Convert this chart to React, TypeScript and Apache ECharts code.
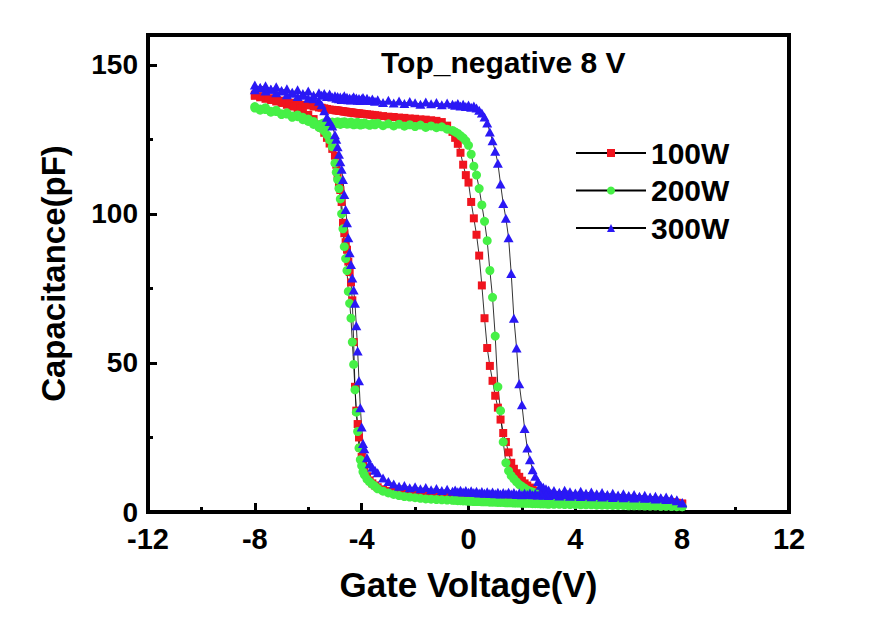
import React, { useEffect, useRef } from 'react';
import * as echarts from 'echarts';

// Gate-voltage sweep grid (V)
const voltage = [
  -8, -7.8, -7.6, -7.4, -7.2, -7, -6.8, -6.6, -6.4, -6.2, -6, -5.8, -5.6,
  -5.5, -5.4, -5.3, -5.2, -5.1,
  -5, -4.95, -4.9, -4.85, -4.8, -4.75, -4.7, -4.65, -4.6, -4.55, -4.5, -4.45, -4.4, -4.35, -4.3, -4.25, -4.2, -4.15, -4.1, -4.05, -4, -3.95, -3.9,
  -3.8, -3.7, -3.6, -3.5,
  -3.4, -3.2, -3, -2.8, -2.6, -2.4, -2.2, -2, -1.8, -1.6, -1.4, -1.2, -1, -0.8, -0.6,
  -0.5, -0.4, -0.3, -0.2, -0.1, 0, 0.1, 0.2, 0.3, 0.4, 0.5, 0.6, 0.7, 0.8, 0.9, 1, 1.1, 1.2, 1.3, 1.4, 1.5, 1.6, 1.7, 1.8, 1.9, 2, 2.1, 2.2, 2.3, 2.4, 2.5, 2.6, 2.7, 2.8, 2.9, 3,
  3.2, 3.4, 3.6, 3.8, 4, 4.2, 4.4, 4.6, 4.8, 5, 5.2, 5.4, 5.6, 5.8, 6, 6.2, 6.4, 6.6, 6.8, 7, 7.2, 7.4, 7.6, 7.8, 8,
];

// 100W: forward sweep (-8 -> 8) and backward sweep (8 -> -8), listed in voltage order
const c100Forward = [
  140, 139.5, 139.2, 138.8, 138.6, 138, 137.8, 137.3, 137.1, 136.6, 136.4, 136, 135.7,
  135.6, 135.4, 135.2, 135, 134.9,
  134.8, 134.7, 134.7, 134.6, 134.5, 134.5, 134.4, 134.3, 134.3, 134.2, 134.1, 134.1, 134, 134, 133.9, 133.8, 133.8, 133.7, 133.7, 133.6, 133.6, 133.5, 133.5,
  133.4, 133.3, 133.2, 133.1,
  133, 132.8, 132.6, 132.5, 132.3, 132.2, 132, 131.9, 131.7, 131.6, 131.4, 131.2, 130.8, 129.6, 127.5,
  125.5, 123.5, 120.5, 116.5, 113, 110.5, 104, 98.5, 93, 86, 76, 65, 55, 49, 44, 39, 35, 31, 26.5, 23.5, 20, 16.5, 14.5, 13, 11.8, 10.5, 9.6, 8.9, 8.2, 7.6, 7.1, 6.7, 6.4, 6.1, 5.9, 5.7,
  5.5, 5.3, 5.2, 5, 4.9, 4.8, 4.7, 4.6, 4.5, 4.5, 4.4, 4.3, 4.2, 4.1, 4.1, 4, 3.9, 3.8, 3.7, 3.6, 3.5, 3.4, 3.3, 3.1, 2.8,
];
const c100Backward = [
  139.6, 139.1, 138.6, 138.2, 137.7, 137.2, 136.6, 136, 135.2, 134.3, 133.2, 131.8, 130,
  128.8, 127.2, 125.5, 123.6, 121.8,
  119.5, 116.5, 113, 110.5, 108, 104, 97, 93.5, 90.5, 88, 84, 80.5, 77, 71, 57, 42, 34, 29.5, 25, 21.5, 18.5, 16, 14.2,
  12, 10.6, 9.6, 8.9,
  8.3, 7.6, 7.1, 6.7, 6.4, 6.2, 6, 5.8, 5.7, 5.6, 5.5, 5.4, 5.3, 5.3, 5.2,
  5.2, 5.1, 5.1, 5, 5, 5, 4.9, 4.9, 4.9, 4.8, 4.8, 4.8, 4.7, 4.7, 4.7, 4.6, 4.6, 4.6, 4.5, 4.5, 4.5, 4.5, 4.4, 4.4, 4.4, 4.3, 4.3, 4.3, 4.3, 4.2, 4.2, 4.2, 4.1, 4.1, 4.1, 4,
  4, 3.9, 3.9, 3.8, 3.8, 3.7, 3.7, 3.6, 3.6, 3.5, 3.5, 3.4, 3.4, 3.3, 3.3, 3.2, 3.2, 3.1, 3.1, 3, 3, 2.9, 2.9, 2.9, 2.8,
];

// 200W
const c200Forward = [
  136, 135.2, 135.6, 134.4, 134.8, 133.6, 133.9, 132.8, 133.2, 132.4, 131.8, 131, 129.8,
  130.2, 130.6, 130, 130.4, 130.8,
  130.6, 130.2, 130.9, 130.4, 130, 130.7, 130.3, 130.9, 130.5, 130.1, 130.6, 130.2, 130.8, 130.3, 129.9, 130.5, 130.1, 130.7, 130.2, 129.8, 130.4, 130, 130.5,
  130.1, 129.7, 130.3, 129.9,
  130.4, 129.6, 130.2, 129.5, 130.1, 129.4, 129.9, 129.3, 129.8, 129, 129.5, 128.9, 129.2, 128.4, 128,
  127.5, 127, 126.2, 125.5, 124.5, 123, 120, 116, 113, 108.5, 103, 97.5, 91, 81, 72, 59, 42, 34, 23.5, 16.5, 13.8, 12.2, 11.1, 10.1, 9.2, 8.6, 8, 7.4, 7, 6.7, 6.4, 5.6, 5, 4.5, 4.1, 3.8,
  3.5, 3.3, 3.1, 3, 2.9, 2.8, 2.7, 2.8, 2.6, 2.5, 2.6, 2.4, 2.5, 2.3, 2.4, 2.2, 2.3, 2.2, 2.1, 2.2, 2, 2.1, 1.9, 2, 1.8,
];
const c200Backward = [
  135.5, 134.8, 135, 134.1, 134.3, 133.3, 133.5, 132.4, 132.6, 131.6, 131, 130, 129,
  128.6, 127.8, 126.5, 124.8, 122.5,
  117, 114, 111.5, 108.5, 105, 100, 95, 89, 85, 81, 74, 70, 65, 57, 49.5, 41, 33.5, 27, 21.5, 17.5, 15.5, 13.5, 12.5,
  11, 10.1, 9.3, 8.6,
  7.8, 7, 6.4, 5.9, 5.5, 5.2, 5, 4.8, 4.6, 4.4, 4.3, 4.2, 4.1, 4, 3.9,
  3.9, 3.8, 3.8, 3.7, 3.7, 3.6, 3.6, 3.5, 3.5, 3.5, 3.4, 3.4, 3.4, 3.3, 3.3, 3.3, 3.2, 3.2, 3.2, 3.1, 3.1, 3.1, 3, 3, 3, 2.9, 2.9, 2.9, 2.9, 2.8, 2.8, 2.8, 2.7, 2.7, 2.7, 2.6,
  2.6, 2.6, 2.5, 2.5, 2.5, 2.4, 2.4, 2.4, 2.3, 2.3, 2.3, 2.2, 2.2, 2.2, 2.1, 2.1, 2.1, 2, 2, 2, 1.9, 1.9, 1.9, 1.8, 1.8,
];

// 300W
const c300Forward = [
  143.2, 142.4, 143, 141.8, 142.6, 141.4, 142, 140.8, 141.6, 140.4, 141.2, 139.8, 140.6,
  139.8, 140.4, 139.4, 140.2, 139.2,
  139.6, 138.8, 139.4, 138.6, 139.2, 138.4, 139, 139.6, 138.5, 139.1, 138.3, 138.9, 138.2, 138.8, 139.3, 138.4, 138.9, 138.1, 138.7, 138, 138.6, 139, 138.2,
  138.8, 138, 138.5, 137.8,
  138.3, 137.4, 138.1, 137.2, 137.9, 137, 137.7, 137.3, 136.8, 137.5, 136.9, 137.4, 136.6, 137.2, 136.8,
  136.4, 137, 136.2, 136.8, 136, 136.5, 135.8, 136.2, 135.5, 134.8, 133.8, 132.5, 130.5, 127.5, 124.5, 121, 117, 110, 103.5, 98.5, 92, 80, 65, 55, 43, 36, 28, 21.5, 17.5, 14.2, 12, 10.2, 9, 8.3, 7.8, 7.4,
  7.2, 6.6, 7.3, 6.8, 6.4, 7, 6.3, 6.7, 6.1, 6.5, 5.9, 6.3, 5.7, 6.1, 5.5, 5.9, 5.3, 5.6, 5, 5.3, 4.8, 5, 4.5, 4.1, 3.2,
];
const c300Backward = [
  141.6, 142.3, 141.2, 141.8, 140.6, 141.2, 140, 140.5, 139.4, 139.8, 138.8, 138.6, 137.8,
  136.6, 134.6, 132.4, 131, 129.5,
  126.5, 125, 122.5, 120, 117.5, 115, 111.5, 106.5, 101.5, 97, 92, 87, 83, 78.5, 74.5, 70, 62.5, 54, 44, 35, 28.5, 23, 21.2,
  18.2, 16.2, 15, 14,
  13.2, 11.4, 10.2, 9.4, 8.6, 8.9, 8.1, 8.5, 7.8, 8.2, 7.5, 7.9, 7.2, 7.6, 7,
  7.4, 6.8, 7.3, 6.7, 7.2, 6.6, 7.1, 6.5, 7, 6.4, 6.9, 6.3, 6.8, 6.2, 6.7, 6.1, 6.6, 6, 6.5, 6.1, 6.6, 6, 6.5, 5.9, 6.4, 5.8, 6.3, 5.9, 6.4, 5.8, 6.2, 5.7, 6.1, 5.6, 6, 5.5,
  5.9, 5.4, 5.8, 5.3, 5.7, 5.2, 5.6, 5.1, 5.5, 5, 5.4, 4.9, 5.3, 4.8, 5.1, 4.7, 5, 4.6, 4.8, 4.4, 4.6, 4.2, 4.3, 3.8, 3,
];

const seriesNames = ['100W', '200W', '300W'];
const seriesColors = ['#f0141e', '#46f046', '#2a18f5'];
const FONT = "'Liberation Sans', Arial, Helvetica, sans-serif";

function loop(fwd: number[], bwd: number[]) {
  const a = voltage.map((v, i) => [v, fwd[i]]);
  const b = voltage.map((v, i) => [v, bwd[i]]).reverse();
  return a.concat(b);
}

export default function App() {
  const ref = useRef<HTMLDivElement>(null);
  useEffect(() => {
    if (!ref.current) return;
    const chart = echarts.init(ref.current, null, { renderer: 'svg' });
    const common = {
      type: 'line',
      showAllSymbol: true,
      lineStyle: { color: '#000', width: 0.8 },
      emphasis: { disabled: true },
    };
    chart.setOption({
      animation: false,
      backgroundColor: '#fff',
      title: {
        text: 'Top_negative 8 V',
        left: 381,
        top: 47,
        padding: 0,
        textStyle: { fontFamily: FONT, fontWeight: 'bold', fontSize: 30, color: '#000' },
      },
      legend: {
        data: seriesNames,
        orient: 'vertical',
        left: 575,
        top: 137,
        padding: 0,
        itemWidth: 70,
        itemHeight: 10,
        itemGap: 5.5,
        textStyle: { fontFamily: FONT, fontWeight: 'bold', fontSize: 30, color: '#000', lineHeight: 32 },
      },
      grid: {
        left: 148,
        right: 89,
        top: 35,
        bottom: 109,
        show: true,
        borderColor: '#000',
        borderWidth: 4,
        backgroundColor: 'transparent',
      },
      xAxis: {
        type: 'value',
        min: -12,
        max: 12,
        interval: 4,
        name: 'Gate Voltage(V)',
        nameLocation: 'middle',
        nameGap: 55,
        nameTextStyle: { fontFamily: FONT, fontWeight: 'bold', fontSize: 35, color: '#000' },
        axisLine: { show: true, onZero: false, lineStyle: { color: '#000', width: 4 } },
        axisTick: { show: true, inside: true, length: 9, lineStyle: { color: '#000', width: 3 } },
        minorTick: { show: true, splitNumber: 2, length: 5, lineStyle: { color: '#000', width: 3 } },
        splitLine: { show: false },
        axisLabel: { fontFamily: FONT, fontWeight: 'bold', fontSize: 29, lineHeight: 26, color: '#000', margin: 14 },
      },
      yAxis: {
        type: 'value',
        min: 0,
        max: 160,
        interval: 50,
        name: 'Capacitance(pF)',
        nameLocation: 'middle',
        nameGap: 78,
        nameTextStyle: { fontFamily: FONT, fontWeight: 'bold', fontSize: 33, color: '#000' },
        axisLine: { show: true, onZero: false, lineStyle: { color: '#000', width: 4 } },
        axisTick: { show: true, inside: true, length: 9, lineStyle: { color: '#000', width: 3 } },
        minorTick: { show: true, splitNumber: 2, length: 5, lineStyle: { color: '#000', width: 3 } },
        splitLine: { show: false },
        axisLabel: {
          fontFamily: FONT,
          fontWeight: 'bold',
          fontSize: 28,
          lineHeight: 22,
          padding: [0, 0, 5, 0],
          color: '#000',
          margin: 10,
          showMaxLabel: false,
        },
      },
      series: [
        {
          ...common,
          name: seriesNames[0],
          data: loop(c100Forward, c100Backward),
          symbol: 'rect',
          symbolSize: 8,
          itemStyle: { color: seriesColors[0] },
        },
        {
          ...common,
          name: seriesNames[1],
          data: loop(c200Forward, c200Backward),
          symbol: 'circle',
          symbolSize: 9,
          itemStyle: { color: seriesColors[1] },
        },
        {
          ...common,
          name: seriesNames[2],
          data: loop(c300Forward, c300Backward),
          symbol: 'triangle',
          symbolSize: [10, 9],
          itemStyle: { color: seriesColors[2] },
        },
      ],
    });
    return () => chart.dispose();
  }, []);
  return (
    <div
      ref={ref}
      style={{ position: 'absolute', left: 0, top: 0, width: 878, height: 621, background: '#fff' }}
    />
  );
}
